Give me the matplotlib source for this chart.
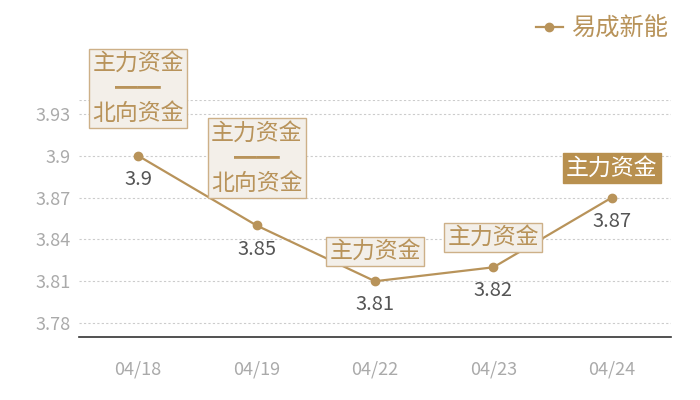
import matplotlib
matplotlib.use('Agg')
import matplotlib.pyplot as plt
from matplotlib.lines import Line2D

plt.rcParams['font.family'] = ['Noto Sans CJK SC', 'DejaVu Sans']

DATES = ['04/18', '04/19', '04/22', '04/23', '04/24']
PRICES = [3.90, 3.85, 3.81, 3.82, 3.87]
TAGS = ['主力资金\n━━\n北向资金', '主力资金\n━━\n北向资金', '主力资金', '主力资金', '主力资金']
SERIES = '易成新能'
YTICKS = [3.78, 3.81, 3.84, 3.87, 3.90, 3.93]
YTICK_LABELS = ['3.78', '3.81', '3.84', '3.87', '3.9', '3.93']

GOLD = '#b8935a'
BOX_FACE = '#f3efe9'
BOX_EDGE = '#cdb088'
DARK_BOX = '#b8904f'

fig = plt.figure(figsize=(7, 4), dpi=100)
ax = fig.add_axes([79 / 700, 63 / 400, 592 / 700, 237 / 400])

x = list(range(len(DATES)))
ax.plot(x, PRICES, color=GOLD, lw=1.6, marker='o', ms=6, zorder=3)

ax.set_xlim(-0.5, len(DATES) - 0.5)
ax.set_ylim(3.77, 3.94)
ax.set_yticks(YTICKS)
ax.set_yticklabels(YTICK_LABELS)
ax.set_xticks(x)
ax.set_xticklabels(DATES)
ax.tick_params(axis='both', length=0, labelcolor='#aaaaaa', labelsize=13)
ax.tick_params(axis='x', pad=17)
ax.tick_params(axis='y', pad=6)

ax.grid(axis='y', ls=(0, (2, 2)), color='#cccccc', lw=0.8)
ax.axhline(3.94, ls=(0, (2, 2)), color='#cccccc', lw=0.8)
for side in ['top', 'right', 'left']:
    ax.spines[side].set_visible(False)
ax.spines['bottom'].set_color('#333333')
ax.spines['bottom'].set_linewidth(1.2)

# value labels under points
for xi, v in zip(x, PRICES):
    ax.annotate(f'{v:g}', (xi, v), xytext=(0, -17), textcoords='offset points',
                ha='center', va='center', fontsize=14.5, color='#555555')

# tag boxes above points
for i, (xi, v, tag) in enumerate(zip(x, PRICES, TAGS)):
    last = i == len(TAGS) - 1
    two_line = '\n' in tag
    off = 22 if two_line else 13
    box = dict(boxstyle='square,pad=0.14',
               fc=DARK_BOX if last else BOX_FACE,
               ec=DARK_BOX if last else BOX_EDGE, lw=1)
    ax.annotate(tag, (xi, v), xytext=(0, off), textcoords='offset points',
                ha='center', va='bottom', fontsize=16.5, linespacing=1.12,
                color='white' if last else GOLD, bbox=box, zorder=4)

handle = Line2D([], [], color=GOLD, lw=1.6, marker='o', ms=6)
ax.legend([handle], [SERIES], loc='upper right', bbox_to_anchor=(684 / 700, 1.0),
          bbox_transform=fig.transFigure, frameon=False, fontsize=17.5,
          labelcolor=GOLD, handlelength=1.1, handletextpad=0.35, borderpad=0.15)

fig.savefig('out.png', dpi=100)
